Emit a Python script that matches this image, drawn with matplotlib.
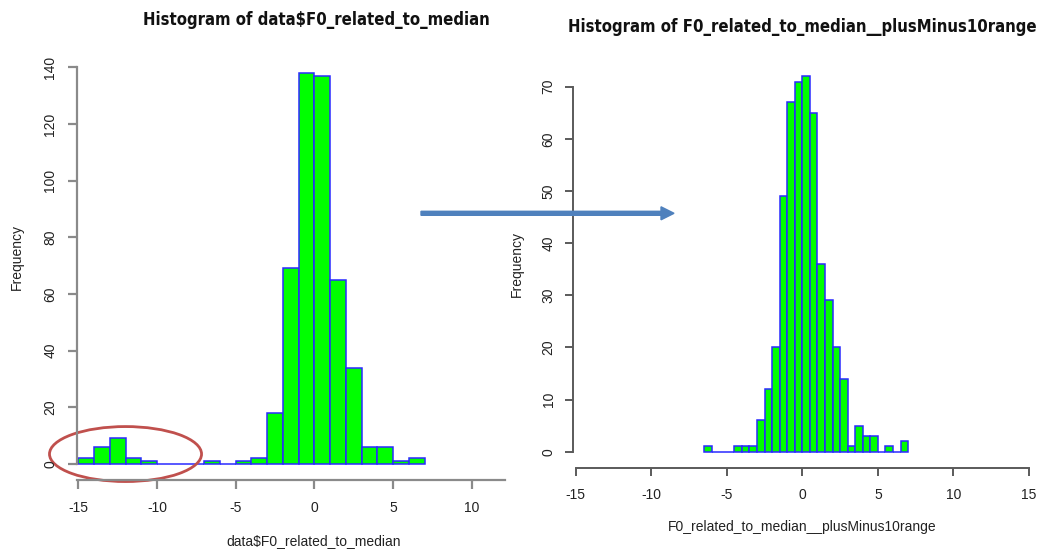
import numpy as np
import matplotlib
matplotlib.use('Agg')
import matplotlib.pyplot as plt
from matplotlib.patches import Ellipse, FancyArrow
from matplotlib import font_manager

#--------------------------------
# bin counts

left_edges  = [-15, -14, -13, -12, -11, -10, -9, -8, -7, -6, -5, -4, -3, -2, -1, 0, 1, 2, 3, 4, 5, 6]
left_counts = [2, 6, 9, 2, 1, 0, 0, 0, 1, 0, 1, 2, 18, 69, 138, 137, 65, 34, 6, 6, 1, 2]
left_width  = 1.0

right_edges  = [-6.5, -6.0, -5.5, -5.0, -4.5, -4.0, -3.5, -3.0, -2.5, -2.0, -1.5, -1.0, -0.5,
                0.0, 0.5, 1.0, 1.5, 2.0, 2.5, 3.0, 3.5, 4.0, 4.5, 5.0, 5.5, 6.0, 6.5]
right_counts = [1, 0, 0, 0, 1, 1, 1, 6, 12, 20, 49, 67, 71,
                72, 65, 36, 29, 20, 14, 1, 5, 3, 3, 0, 1, 0, 2]
right_width  = 0.5

left_xticks  = [-15, -10, -5, 0, 5, 10]
left_yticks  = [0, 20, 40, 60, 80, 100, 120, 140]
right_xticks = [-15, -10, -5, 0, 5, 10, 15]
right_yticks = [0, 10, 20, 30, 40, 50, 60, 70]

W, H = 1038, 549
FONT = 'Liberation Sans'

#--------------------------------

def titleFont() :
    # narrow bold face for the main titles, whichever is installed
    names = set(f.name for f in font_manager.fontManager.ttflist)
    if 'Liberation Sans Narrow' in names :
        return dict(family='Liberation Sans Narrow', fontsize=12.5)
    return dict(family='DejaVu Sans', fontstretch='condensed', fontsize=12)

def box(x0, y0, x1, y1) :
    # pixel box (top-left origin) -> figure fraction rect
    return [x0/W, 1 - y1/H, (x1 - x0)/W, (y1 - y0)/H]

def rStyle(ax, xticks, yticks, xb, yb, out_px, tlen, axcol, lw) :
    for s in ['top', 'right'] :
        ax.spines[s].set_visible(False)
    ax.spines['bottom'].set_position(('outward', out_px*72./100))
    ax.spines['bottom'].set_bounds(*xb)
    ax.spines['left'].set_bounds(*yb)
    for s in ['bottom', 'left'] :
        ax.spines[s].set_color(axcol)
        ax.spines[s].set_linewidth(lw)
    ax.set_xticks(xticks)
    ax.set_yticks(yticks)
    ax.set_xticklabels([str(v) for v in xticks])
    ax.set_yticklabels([str(v) for v in yticks], rotation=90, va='center')
    ax.tick_params(axis='both', length=tlen*0.72, width=lw, color=axcol,
                   labelsize=10, labelcolor='#222222')
    for lab in ax.get_xticklabels() + ax.get_yticklabels() :
        lab.set_family(FONT)

def drawBars(ax, edges, counts, width) :
    ax.bar(edges, counts, width=width, align='edge', color='#00ff00',
           edgecolor='#2a2aff', linewidth=1.1, clip_on=False)

#--------------------------------

def main() :
    fig = plt.figure(figsize=(W/100., H/100.), dpi=100, facecolor='w')

    # left histogram
    axl = fig.add_axes(box(77.3, 67.3, 505, 466.8))
    drawBars(axl, left_edges, left_counts, left_width)
    axl.set_xlim(-15 - 1.0/15.74, -15 + (505 - 78.3)/15.74)
    axl.set_ylim(-1, 140)
    rStyle(axl, left_xticks, left_yticks, axl.get_xlim(), (0, 140), 13.2, 9, '#8a8a8a', 1.6)
    axl.tick_params(axis='x', pad=9)
    axl.tick_params(axis='y', pad=8)
    axl.add_patch(Ellipse((-12.0, 3.5), 9.66, 19.4, fill=False, edgecolor='#c0504d',
                          linewidth=2.0, clip_on=False))

    # right histogram
    axr = fig.add_axes(box(573.3, 76.3, 1032, 454.3))
    drawBars(axr, right_edges, right_counts, right_width)
    axr.set_xlim(-15 - 2.4/15.11, 15 + 3.0/15.11)
    axr.set_ylim(-0.5, 72)
    rStyle(axr, right_xticks, right_yticks, (-15, 15), (0, 70), 13.4, 8, '#5a5a5a', 1.4)
    axr.tick_params(axis='x', pad=9)
    axr.tick_params(axis='y', pad=7)

    # titles and labels
    tkw = dict(weight='bold', ha='center', va='center', color='#111111')
    tkw.update(titleFont())
    fig.text(316/W, 1 - 20/H, 'Histogram of data$F0_related_to_median', **tkw)
    fig.text(802/W, 1 - 27/H, 'Histogram of F0_related_to_median__plusMinus10range', **tkw)

    lkw = dict(family=FONT, fontsize=10, ha='center', color='#222222')
    fig.text(313.7/W, 1 - 545/H, 'data$F0_related_to_median', va='baseline', **lkw)
    fig.text(801.7/W, 1 - 531/H, 'F0_related_to_median__plusMinus10range', va='baseline', **lkw)
    fig.text(16.7/W, 1 - 257/H, 'Frequency', rotation=90, va='center', **lkw)
    fig.text(516.7/W, 1 - 264/H, 'Frequency', rotation=90, va='center', **lkw)

    # arrow between the two panels
    fig.patches.append(FancyArrow(
        421/W, 1 - 213.3/H, (674 - 421 - 13)/W, 0, width=4.0/H,
        head_width=13.0/H, head_length=13.0/W, length_includes_head=False,
        color='#4f81bd', transform=fig.transFigure, figure=fig))

    fig.savefig('out.png', dpi=100)

#--------------------------------

if __name__ == "__main__" :
    main()
